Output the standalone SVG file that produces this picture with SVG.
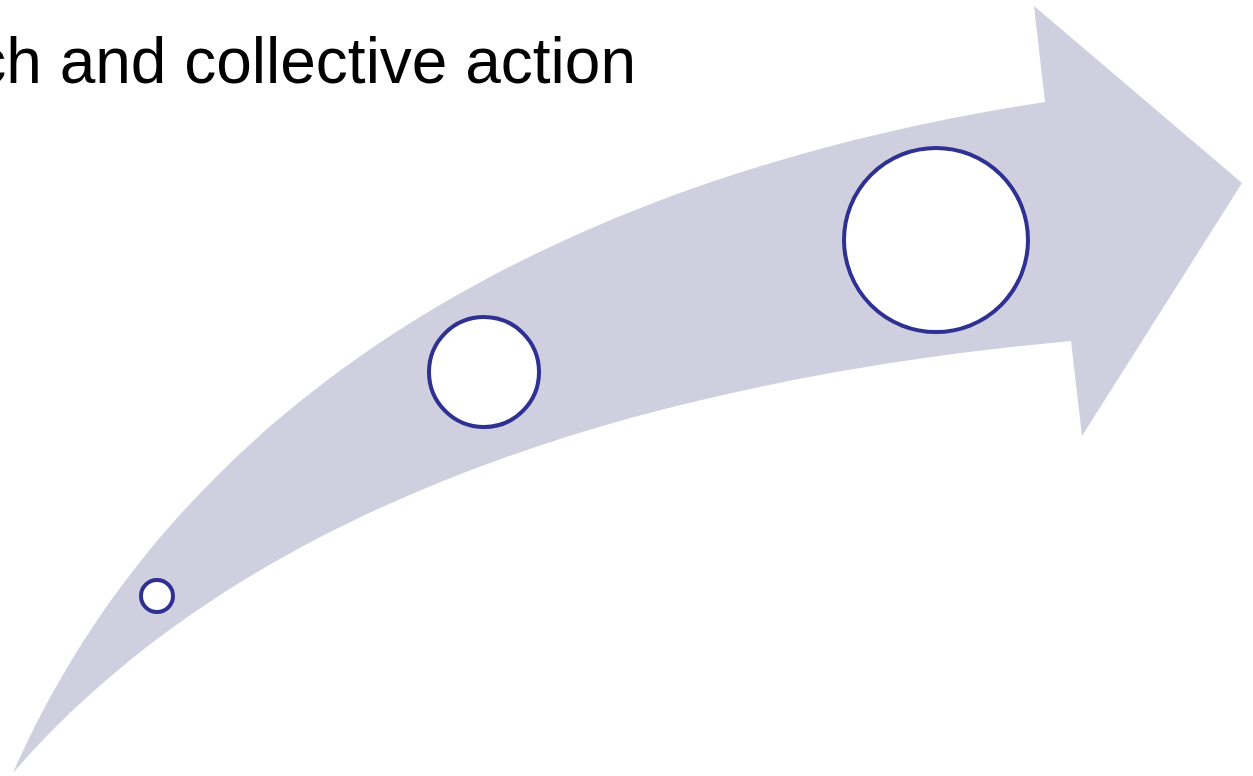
<svg xmlns="http://www.w3.org/2000/svg" width="1253" height="776" viewBox="0 0 1253 776">
<style>
.band{fill:#cfcfe0;stroke:none}
.node{fill:#ffffff;stroke:#2e3192;stroke-width:4}
.title{font-family:"Liberation Sans",Arial,sans-serif;font-size:64px;fill:#000000}
</style>
<rect width="1253" height="776" fill="#ffffff"/>
<g id="arrow">
<path class="band" d="M13,773 C190,370 600,170 1045,102 L1034,6 L1242,183 L1082,436 L1071,341 C650,380 250,500 13,773 Z"/>
</g>
<text class="title" x="636" y="83" text-anchor="end">ch and collective action</text>
<g id="node-small"><circle class="node" cx="157" cy="596" r="16"/></g>
<g id="node-medium"><circle class="node" cx="484" cy="372" r="55"/></g>
<g id="node-large"><circle class="node" cx="936" cy="240" r="92"/></g>
</svg>
